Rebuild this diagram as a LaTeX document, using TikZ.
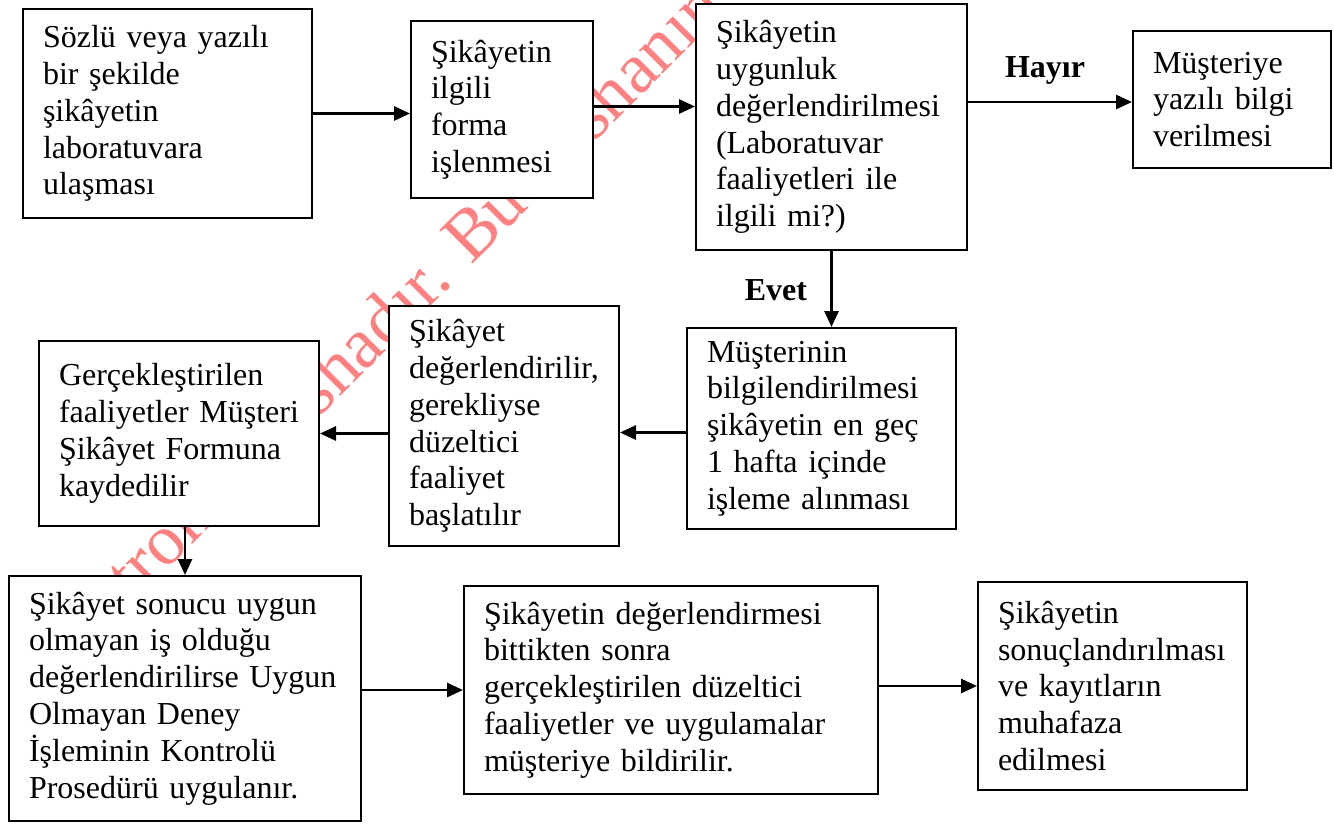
\documentclass[tikz,border=0pt]{standalone}
\usepackage{fontspec}
\setmainfont{Liberation Serif}
\usetikzlibrary{arrows.meta,calc}
\tikzset{
  box/.style={draw, line width=2pt, fill=white, align=left, inner xsep=20pt, inner ysep=0pt,
    anchor=north west, font=\fontsize{32}{36.8}\selectfont},
  arr/.style={line width=2.8pt, -{Triangle[length=16pt,width=14pt]}},
  lbl/.style={font=\fontsize{32}{36.8}\selectfont\bfseries, inner sep=0pt},
  wm/.style={text=red!50, font=\fontsize{72}{74}\selectfont, rotate=45, anchor=base west, inner sep=0pt}
}
\begin{document}
\begin{tikzpicture}[x=1pt,y=-1pt]
\useasboundingbox (0,0) rectangle (1334,823);
\node[wm] (wm) at (41,696) {Elektronik nüshadır. Bu nüshanın};
\node[box, text width=249pt, minimum height=209pt] (A) at (22,8)
  {Sözlü~veya~yazılı\\ bir~şekilde\\ şikâyetin\\ laboratuvara\\ ulaşması};
\node[box, text width=142pt, minimum height=177pt] (B) at (410,20)
  {Şikâyetin\\ ilgili\\ forma\\ işlenmesi};
\node[box, text width=231pt, minimum height=246pt] (C) at (695,3)
  {Şikâyetin\\ uygunluk\\ değerlendirilmesi\\ (Laboratuvar\\ faaliyetleri~ile\\ ilgili~mi?)};
\node[box, text width=158pt, minimum height=137pt] (D) at (1132,30)
  {Müşteriye\\ yazılı~bilgi\\ verilmesi};
\node[box, text width=229pt, minimum height=201pt] (E) at (686,327)
  {Müşterinin\\ bilgilendirilmesi\\ şikâyetin~en~geç\\ 1~hafta~içinde\\ işleme~alınması};
\node[box, text width=190pt, minimum height=240pt] (F) at (388,305)
  {Şikâyet\\ değerlendirilir,\\ gerekliyse\\ düzeltici\\ faaliyet\\ başlatılır};
\node[box, text width=240pt, minimum height=185pt] (G) at (38,340)
  {Gerçekleştirilen\\ faaliyetler~Müşteri\\ Şikâyet~Formuna\\ kaydedilir\\[10pt]};
\node[box, text width=312pt, minimum height=245pt] (H) at (8,575)
  {Şikâyet~sonucu~uygun\\ olmayan~iş~olduğu\\ değerlendirilirse~Uygun\\ Olmayan~Deney\\ İşleminin~Kontrolü\\ Prosedürü~uygulanır.};
\node[box, text width=374pt, minimum height=208pt] (I) at (463,585)
  {Şikâyetin~değerlendirmesi\\ bittikten~sonra\\ gerçekleştirilen~düzeltici\\ faaliyetler~ve~uygulamalar\\ müşteriye~bildirilir.};
\node[box, text width=229pt, minimum height=208pt] (J) at (977,581)
  {Şikâyetin\\ sonuçlandırılması\\ ve~kayıtların\\ muhafaza\\ edilmesi};
\node[lbl] (hayir) at (1045,70) {Hayır};
\node[lbl] (evet) at (776,290) {Evet};
\draw[arr] (A.east) -- (A.east -| B.west);
\draw[arr] ([yshift=3pt]B.east) -- ([yshift=3pt]B.east -| C.west);
\draw[arr] ([yshift=25pt]C.east) -- ([yshift=25pt]C.east -| D.west);
\draw[arr] (C.south) -- (C.south |- E.north);
\draw[arr] ([yshift=-4pt]E.west) -- ([yshift=-4pt]E.west -| F.east);
\draw[arr] (F.west |- G.east) -- (G.east);
\draw[arr] (G.south -| H.north) -- (H.north);
\draw[arr] (H.east |- I.west) -- (I.west);
\draw[arr] (I.east |- J.west) -- (J.west);
\end{tikzpicture}
\end{document}
